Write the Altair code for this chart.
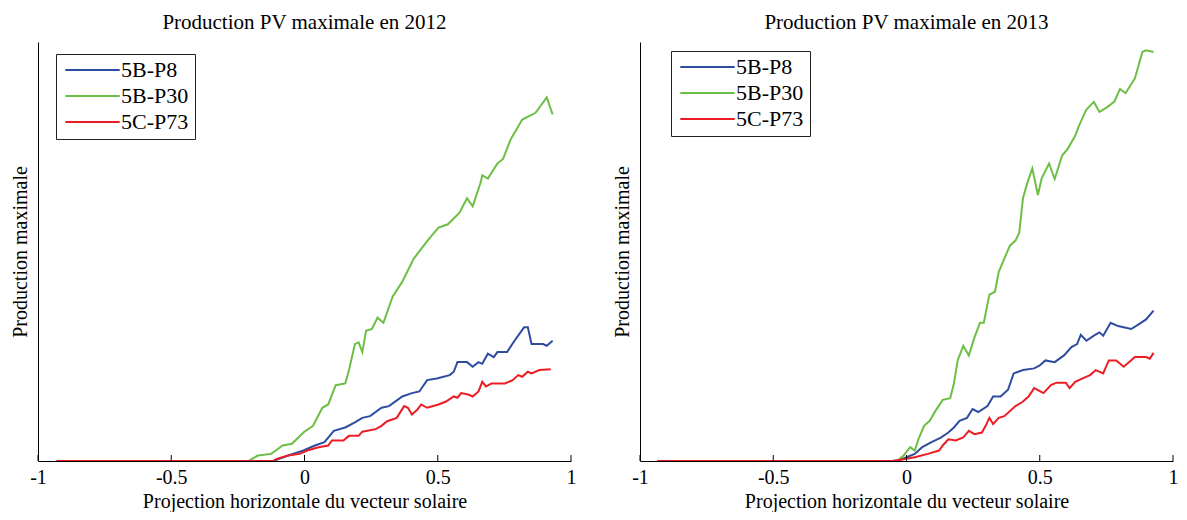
import altair as alt
import pandas as pd

SERIES = ["5B-P8", "5B-P30", "5C-P73"]
COLORS = ["#2E4DA0", "#6DBE45", "#ED1C24"]
X_TICKS = [-1, -0.5, 0, 0.5, 1]
TITLES = ["Production PV maximale en 2012", "Production PV maximale en 2013"]
X_TITLE = "Projection horizontale du vecteur solaire"
Y_TITLE = "Production maximale"

# ---- 2012 ----
b12_x = [-0.93, -0.118, -0.061, -0.004, 0.039, 0.075, 0.110, 0.153, 0.189, 0.217, 0.246, 0.289,
         0.317, 0.367, 0.403, 0.431, 0.460, 0.496, 0.545, 0.560, 0.574, 0.610, 0.631, 0.653,
         0.667, 0.688, 0.710, 0.724, 0.760, 0.788, 0.824, 0.838, 0.852, 0.895, 0.909, 0.931]
b12_y = [0, 0, 1.3, 2.5, 3.7, 4.5, 7.2, 8.0, 9.2, 10.3, 10.7, 12.7,
         13.1, 15.4, 16.2, 16.6, 19.3, 19.7, 20.5, 21.3, 23.6, 23.6, 22.5, 23.6,
         23.2, 25.6, 24.8, 26.0, 26.0, 28.7, 31.9, 31.9, 27.9, 27.9, 27.5, 28.7]

g12_x = [-0.93, -0.211, -0.175, -0.125, -0.082, -0.047, -0.004, 0.032, 0.067, 0.089, 0.117, 0.153,
         0.167, 0.189, 0.203, 0.217, 0.231, 0.253, 0.274, 0.296, 0.331, 0.367, 0.410, 0.438,
         0.467, 0.503, 0.538, 0.581, 0.610, 0.631, 0.660, 0.667, 0.688, 0.724, 0.745, 0.774,
         0.817, 0.867, 0.909, 0.931]
g12_y = [0, 0, 1.3, 1.7, 3.7, 4.1, 6.8, 8.4, 12.7, 13.5, 18.1, 18.5,
         21.7, 27.9, 28.3, 26.0, 31.1, 31.5, 34.2, 33.0, 39.3, 42.8, 48.3, 50.6,
         53.0, 55.7, 56.5, 59.2, 62.7, 60.8, 66.3, 68.2, 67.4, 71.0, 72.1, 76.8,
         81.5, 83.1, 86.8, 82.7]

r12_x = [-0.93, -0.118, -0.104, -0.061, -0.018, 0.010, 0.053, 0.089, 0.103, 0.146, 0.167, 0.203,
         0.217, 0.267, 0.289, 0.310, 0.346, 0.374, 0.388, 0.403, 0.424, 0.438, 0.460, 0.503,
         0.531, 0.560, 0.574, 0.588, 0.617, 0.631, 0.653, 0.667, 0.681, 0.702, 0.752, 0.781,
         0.802, 0.817, 0.838, 0.852, 0.881, 0.924]
r12_y = [0, 0, 0.5, 1.3, 1.7, 2.5, 3.3, 3.7, 4.9, 4.9, 6.0, 6.0,
         7.0, 7.6, 8.4, 9.5, 10.3, 13.1, 12.7, 11.1, 12.3, 13.5, 12.7, 13.5,
         14.2, 15.4, 15.1, 16.2, 15.8, 15.4, 16.6, 18.9, 17.8, 18.5, 18.5, 19.3,
         20.5, 20.1, 21.3, 20.9, 21.7, 21.9]

# ---- 2013 ----
b13_x = [-0.936, -0.032, -0.011, 0.031, 0.059, 0.094, 0.129, 0.157, 0.178, 0.199, 0.227, 0.248,
         0.269, 0.304, 0.325, 0.353, 0.381, 0.402, 0.437, 0.479, 0.500, 0.521, 0.556, 0.591,
         0.619, 0.640, 0.654, 0.675, 0.703, 0.724, 0.738, 0.766, 0.794, 0.843, 0.871, 0.899, 0.927]
b13_y = [0, 0, 0.6, 1.7, 3.3, 4.5, 5.6, 6.8, 8.0, 9.6, 10.3, 12.4,
         11.7, 13.1, 15.4, 15.4, 17.0, 20.9, 21.7, 22.1, 22.8, 24.0, 23.6, 25.2,
         27.2, 27.9, 30.1, 28.7, 29.9, 30.7, 29.9, 33.0, 32.2, 31.5, 32.6, 33.8, 35.9]

g13_x = [-0.936, -0.053, -0.032, -0.011, 0.014, 0.031, 0.045, 0.066, 0.087, 0.108, 0.136, 0.164,
         0.178, 0.192, 0.213, 0.234, 0.255, 0.276, 0.290, 0.311, 0.332, 0.346, 0.367, 0.388,
         0.409, 0.423, 0.437, 0.451, 0.472, 0.493, 0.507, 0.535, 0.556, 0.584, 0.605, 0.633,
         0.647, 0.675, 0.703, 0.724, 0.752, 0.780, 0.801, 0.822, 0.857, 0.885, 0.899, 0.927]
g13_y = [0, 0, 0.2, 1.3, 3.3, 2.5, 5.2, 8.4, 9.6, 11.9, 14.6, 15.0,
         18.5, 24.0, 27.5, 25.2, 29.5, 33.0, 33.0, 39.7, 40.4, 45.1, 48.3, 51.4,
         52.6, 54.5, 62.7, 65.9, 69.8, 63.5, 67.4, 71.0, 67.3, 72.9, 74.5, 77.6,
         80.0, 83.9, 85.7, 83.3, 84.4, 85.8, 88.8, 87.8, 91.3, 97.6, 98.0, 97.6]

r13_x = [-0.936, -0.053, -0.011, 0.031, 0.080, 0.122, 0.136, 0.157, 0.185, 0.213, 0.234, 0.255,
         0.283, 0.297, 0.311, 0.325, 0.346, 0.367, 0.409, 0.437, 0.458, 0.479, 0.514, 0.542,
         0.563, 0.598, 0.612, 0.633, 0.661, 0.689, 0.710, 0.738, 0.759, 0.787, 0.815, 0.857,
         0.899, 0.913, 0.927]
r13_y = [0, 0, 0.4, 0.9, 1.7, 2.5, 3.7, 5.2, 4.9, 5.6, 7.2, 6.4,
         6.8, 8.4, 10.3, 8.8, 10.3, 10.7, 13.1, 14.2, 15.4, 17.4, 16.2, 18.1,
         18.7, 18.7, 17.4, 18.9, 19.7, 20.5, 21.7, 20.9, 24.0, 24.0, 22.5, 24.8,
         24.8, 24.4, 25.8]

FONT = "Liberation Serif"
W, H = 533, 419


def panel(title, series, legend_x, legend_y):
    rows = []
    for name, xs, ys in series:
        for i, (xv, yv) in enumerate(zip(xs, ys)):
            rows.append({"x": xv, "y": yv, "serie": name, "ordre": i})
    df = pd.DataFrame(rows)

    lines = alt.Chart(df).mark_line(strokeWidth=2, clip=True).encode(
        x=alt.X("x:Q", scale=alt.Scale(domain=[-1, 1], nice=False, zero=False),
                axis=alt.Axis(values=X_TICKS, labelExpr="'' + datum.value", ticks=False,
                              grid=False, domainColor="black", domainWidth=1,
                              labelFont=FONT, labelFontSize=20, labelColor="black",
                              labelPadding=6, labelFlush=False,
                              titleFont=FONT, titleFontSize=20, titleFontWeight="normal",
                              titleColor="black", titleY=46, titleBaseline="alphabetic"),
                title=X_TITLE),
        y=alt.Y("y:Q", scale=alt.Scale(domain=[0, 100], nice=False),
                axis=alt.Axis(labels=False, ticks=False, grid=False, domainColor="black",
                              domainWidth=1, titleFont=FONT, titleFontSize=20,
                              titleFontWeight="normal", titleColor="black", titleAngle=270,
                              titleBaseline="alphabetic", titleX=-12),
                title=Y_TITLE),
        color=alt.Color("serie:N", scale=alt.Scale(domain=SERIES, range=COLORS),
                        legend=alt.Legend(orient="none", legendX=legend_x, legendY=legend_y,
                                          title=None, titlePadding=0, symbolType="stroke",
                                          symbolSize=2960, symbolStrokeWidth=2, symbolOffset=2,
                                          labelFont=FONT, labelFontSize=22,
                                          labelColor="black", fillColor="white",
                                          strokeColor="#222222", padding=6, rowPadding=4,
                                          clipHeight=20, labelOffset=0, labelLimit=200)),
        order="ordre:Q",
    )
    ticks = alt.Chart(pd.DataFrame({"x": X_TICKS})).mark_rule(color="black", strokeWidth=1).encode(
        x=alt.X("x:Q"), y=alt.value(H), y2=alt.value(H - 6)
    )
    return alt.layer(lines, ticks).properties(
        width=W, height=H,
        title=alt.TitleParams(title, font=FONT, fontSize=21, fontWeight="normal",
                              color="black", offset=9, anchor="middle"),
    )


left = panel(TITLES[0], [(SERIES[0], b12_x, b12_y), (SERIES[1], g12_x, g12_y),
                         (SERIES[2], r12_x, r12_y)], 18, 12)
right = panel(TITLES[1], [(SERIES[0], b13_x, b13_y), (SERIES[1], g13_x, g13_y),
                          (SERIES[2], r13_x, r13_y)], 31, 9)

chart = alt.hconcat(left, right, spacing=69, bounds="flush").resolve_scale(
    color="independent").resolve_legend(color="independent").properties(
    padding={"left": 1, "top": 3, "right": 0, "bottom": 0}, background="white"
).configure_view(stroke="transparent")

chart.save("out.html", embed_options={"renderer": "svg", "actions": False})
